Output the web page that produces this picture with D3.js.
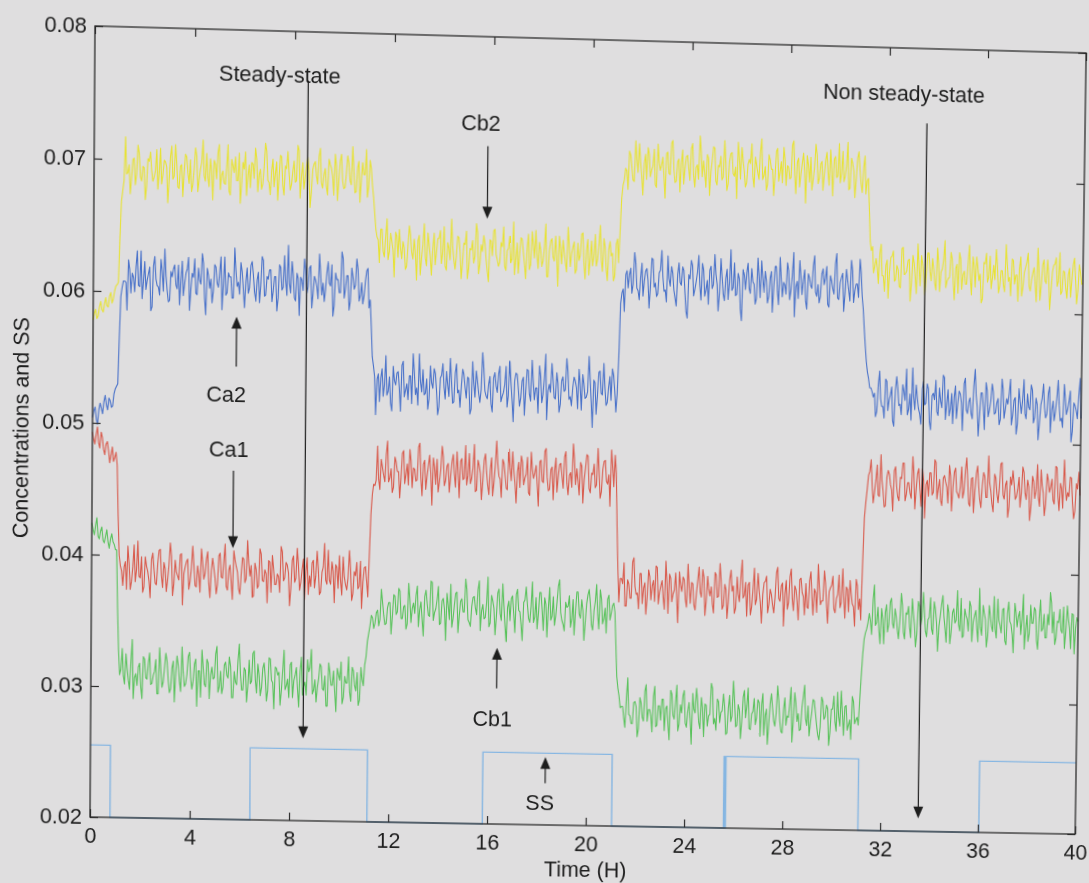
<!DOCTYPE html>
<html>
<head>
<meta charset="utf-8">
<script src="https://cdn.jsdelivr.net/npm/d3@7"></script>
<style>
html, body { margin: 0; padding: 0; background: #dfdedf; overflow: hidden; }
#chart { display: block; transform-origin: 0 0; overflow: visible; }
#chart text { font-family: "Liberation Sans", Arial, Helvetica, sans-serif; fill: #1e1e1e; }
</style>
</head>
<body>
<svg id="chart" width="1160" height="940"></svg>
<script>
// Sampling interval of the logged concentrations (hours); one row below = 1 hour
const sampleStep = 0.05;

// Ca1 concentration
const ca1 = [
0.0493,0.0488,0.0484,0.0491,0.0497,0.0485,0.0481,0.0493,0.0489,0.0480,0.0476,0.0484,0.0486,0.0479,0.0470,0.0476,0.0482,0.0471,0.0474,0.0478,
0.0468,0.0430,0.0400,0.0392,0.0388,0.0377,0.0391,0.0395,0.0374,0.0407,0.0394,0.0374,0.0380,0.0391,0.0408,0.0380,0.0389,0.0411,0.0384,0.0383,
0.0399,0.0372,0.0376,0.0399,0.0392,0.0388,0.0381,0.0368,0.0397,0.0402,0.0390,0.0379,0.0378,0.0394,0.0404,0.0405,0.0385,0.0376,0.0395,0.0390,
0.0373,0.0382,0.0393,0.0410,0.0400,0.0370,0.0379,0.0397,0.0388,0.0385,0.0382,0.0401,0.0402,0.0363,0.0387,0.0392,0.0396,0.0398,0.0375,0.0381,
0.0391,0.0408,0.0394,0.0378,0.0377,0.0393,0.0386,0.0373,0.0406,0.0396,0.0383,0.0387,0.0398,0.0404,0.0380,0.0369,0.0389,0.0399,0.0392,0.0384,
0.0372,0.0379,0.0401,0.0403,0.0385,0.0384,0.0397,0.0410,0.0378,0.0375,0.0390,0.0394,0.0381,0.0368,0.0405,0.0398,0.0393,0.0389,0.0376,0.0372,
0.0387,0.0400,0.0399,0.0381,0.0384,0.0413,0.0396,0.0386,0.0394,0.0370,0.0371,0.0396,0.0391,0.0377,0.0379,0.0407,0.0403,0.0383,0.0382,0.0391,
0.0388,0.0366,0.0398,0.0397,0.0374,0.0402,0.0392,0.0380,0.0380,0.0388,0.0386,0.0374,0.0409,0.0405,0.0383,0.0385,0.0397,0.0395,0.0389,0.0364,
0.0377,0.0399,0.0402,0.0382,0.0385,0.0408,0.0395,0.0376,0.0382,0.0392,0.0400,0.0369,0.0390,0.0401,0.0373,0.0387,0.0379,0.0397,0.0399,0.0378,
0.0387,0.0406,0.0393,0.0373,0.0375,0.0390,0.0394,0.0412,0.0384,0.0381,0.0407,0.0384,0.0381,0.0398,0.0391,0.0367,0.0396,0.0394,0.0378,0.0403,
0.0384,0.0373,0.0402,0.0387,0.0381,0.0377,0.0386,0.0407,0.0393,0.0369,0.0374,0.0391,0.0388,0.0398,0.0378,0.0380,0.0399,0.0363,0.0383,0.0394,
0.0395,0.0384,0.0372,0.0404,0.0435,0.0450,0.0458,0.0457,0.0461,0.0487,0.0462,0.0454,0.0477,0.0471,0.0465,0.0460,0.0481,0.0491,0.0460,0.0463,
0.0470,0.0452,0.0456,0.0479,0.0475,0.0468,0.0468,0.0448,0.0463,0.0482,0.0484,0.0459,0.0466,0.0474,0.0458,0.0485,0.0476,0.0456,0.0471,0.0470,
0.0461,0.0462,0.0487,0.0490,0.0464,0.0450,0.0474,0.0477,0.0455,0.0465,0.0473,0.0481,0.0467,0.0443,0.0479,0.0472,0.0459,0.0478,0.0453,0.0461,
0.0470,0.0488,0.0480,0.0458,0.0462,0.0473,0.0475,0.0453,0.0465,0.0476,0.0482,0.0467,0.0457,0.0484,0.0469,0.0449,0.0477,0.0479,0.0463,0.0464,
0.0489,0.0459,0.0466,0.0483,0.0460,0.0464,0.0472,0.0490,0.0454,0.0455,0.0478,0.0474,0.0468,0.0448,0.0462,0.0478,0.0483,0.0469,0.0459,0.0452,
0.0471,0.0480,0.0451,0.0461,0.0474,0.0493,0.0476,0.0466,0.0464,0.0450,0.0479,0.0476,0.0467,0.0457,0.0456,0.0487,0.0473,0.0463,0.0485,0.0471,
0.0461,0.0446,0.0470,0.0477,0.0458,0.0482,0.0477,0.0460,0.0465,0.0468,0.0481,0.0454,0.0452,0.0485,0.0472,0.0465,0.0469,0.0475,0.0460,0.0444,
0.0478,0.0479,0.0463,0.0462,0.0486,0.0488,0.0466,0.0456,0.0457,0.0472,0.0474,0.0449,0.0471,0.0481,0.0455,0.0467,0.0476,0.0477,0.0467,0.0458,
0.0482,0.0486,0.0462,0.0453,0.0468,0.0470,0.0459,0.0492,0.0480,0.0461,0.0473,0.0464,0.0453,0.0478,0.0475,0.0447,0.0465,0.0474,0.0484,0.0483,
0.0458,0.0455,0.0470,0.0469,0.0477,0.0459,0.0461,0.0489,0.0472,0.0451,0.0456,0.0473,0.0479,0.0480,0.0464,0.0462,0.0469,0.0445,0.0488,0.0476,
0.0460,0.0484,0.0470,0.0430,0.0398,0.0372,0.0390,0.0390,0.0386,0.0402,0.0369,0.0369,0.0389,0.0386,0.0375,0.0375,0.0403,0.0406,0.0384,0.0378,
0.0379,0.0367,0.0394,0.0394,0.0371,0.0383,0.0387,0.0363,0.0376,0.0397,0.0392,0.0374,0.0385,0.0389,0.0373,0.0400,0.0399,0.0371,0.0380,0.0385,
0.0389,0.0376,0.0367,0.0404,0.0387,0.0364,0.0394,0.0391,0.0373,0.0379,0.0382,0.0395,0.0376,0.0357,0.0396,0.0386,0.0381,0.0392,0.0390,0.0375,
0.0369,0.0402,0.0385,0.0372,0.0388,0.0387,0.0371,0.0367,0.0380,0.0390,0.0400,0.0381,0.0377,0.0398,0.0392,0.0363,0.0374,0.0393,0.0383,0.0378,
0.0385,0.0372,0.0365,0.0396,0.0394,0.0377,0.0378,0.0403,0.0390,0.0368,0.0371,0.0387,0.0383,0.0361,0.0374,0.0391,0.0398,0.0382,0.0386,0.0365,
0.0369,0.0393,0.0380,0.0374,0.0392,0.0406,0.0377,0.0379,0.0389,0.0363,0.0387,0.0389,0.0364,0.0370,0.0384,0.0400,0.0372,0.0376,0.0396,0.0384,
0.0374,0.0358,0.0380,0.0389,0.0390,0.0394,0.0366,0.0372,0.0384,0.0380,0.0372,0.0366,0.0378,0.0397,0.0401,0.0377,0.0375,0.0387,0.0389,0.0356,
0.0381,0.0391,0.0369,0.0374,0.0394,0.0400,0.0377,0.0368,0.0387,0.0384,0.0374,0.0361,0.0392,0.0393,0.0382,0.0379,0.0365,0.0389,0.0371,0.0370,
0.0391,0.0398,0.0379,0.0365,0.0385,0.0382,0.0367,0.0404,0.0386,0.0373,0.0376,0.0376,0.0399,0.0390,0.0373,0.0359,0.0383,0.0386,0.0388,0.0395,
0.0370,0.0367,0.0378,0.0381,0.0396,0.0371,0.0375,0.0401,0.0380,0.0363,0.0387,0.0385,0.0368,0.0392,0.0382,0.0374,0.0372,0.0357,0.0393,0.0388,
0.0370,0.0378,0.0362,0.0405,0.0440,0.0452,0.0462,0.0473,0.0476,0.0485,0.0466,0.0452,0.0460,0.0469,0.0481,0.0458,0.0457,0.0489,0.0469,0.0461,
0.0449,0.0450,0.0472,0.0477,0.0474,0.0466,0.0462,0.0446,0.0477,0.0480,0.0465,0.0457,0.0454,0.0472,0.0471,0.0483,0.0483,0.0454,0.0459,0.0468,
0.0468,0.0460,0.0456,0.0488,0.0475,0.0448,0.0463,0.0475,0.0479,0.0463,0.0450,0.0479,0.0470,0.0441,0.0467,0.0470,0.0458,0.0476,0.0476,0.0459,
0.0461,0.0486,0.0484,0.0456,0.0464,0.0471,0.0455,0.0451,0.0472,0.0474,0.0469,0.0465,0.0453,0.0482,0.0474,0.0447,0.0465,0.0477,0.0480,0.0462,
0.0460,0.0457,0.0466,0.0481,0.0457,0.0462,0.0478,0.0488,0.0471,0.0453,0.0451,0.0472,0.0473,0.0446,0.0463,0.0476,0.0482,0.0467,0.0456,0.0450,
0.0467,0.0477,0.0474,0.0458,0.0458,0.0490,0.0469,0.0463,0.0453,0.0447,0.0476,0.0473,0.0461,0.0454,0.0466,0.0484,0.0485,0.0460,0.0457,0.0468,
0.0471,0.0443,0.0451,0.0474,0.0468,0.0479,0.0469,0.0457,0.0459,0.0465,0.0474,0.0451,0.0462,0.0482,0.0478,0.0462,0.0457,0.0472,0.0467,0.0441,
0.0452,0.0475,0.0471,0.0458,0.0464,0.0484,0.0459,0.0452,0.0480,0.0468,0.0462,0.0445,0.0454,0.0477,0.0472,0.0463,0.0467,0.0473,0.0457,0.0454,
0.0483,0.0482,0.0460,0.0449,0.0470,0.0466,0.0451,0.0488,0.0469,0.0457,0.0463,0.0460,0.0475,0.0474,0.0455,0.0443,0.0449,0.0470,0.0466,0.0479,
0.0461];

// Ca2 concentration
const ca2 = [
0.0504,0.0509,0.0512,0.0503,0.0499,0.0510,0.0515,0.0511,0.0507,0.0516,0.0521,0.0514,0.0510,0.0519,0.0517,0.0512,0.0513,0.0522,0.0526,0.0528,
0.0530,0.0565,0.0596,0.0603,0.0608,0.0608,0.0607,0.0586,0.0624,0.0617,0.0599,0.0614,0.0611,0.0600,0.0619,0.0631,0.0605,0.0604,0.0631,0.0595,
0.0608,0.0623,0.0602,0.0609,0.0614,0.0619,0.0586,0.0589,0.0620,0.0627,0.0610,0.0605,0.0604,0.0598,0.0625,0.0616,0.0601,0.0633,0.0613,0.0602,
0.0593,0.0594,0.0616,0.0612,0.0618,0.0621,0.0606,0.0603,0.0621,0.0591,0.0609,0.0624,0.0598,0.0607,0.0615,0.0618,0.0627,0.0587,0.0603,0.0615,
0.0612,0.0626,0.0600,0.0599,0.0619,0.0610,0.0607,0.0630,0.0623,0.0596,0.0584,0.0619,0.0614,0.0604,0.0611,0.0593,0.0602,0.0622,0.0620,0.0608,
0.0605,0.0616,0.0628,0.0588,0.0608,0.0628,0.0599,0.0601,0.0616,0.0613,0.0613,0.0597,0.0597,0.0635,0.0618,0.0606,0.0609,0.0600,0.0624,0.0617,
0.0604,0.0590,0.0610,0.0620,0.0601,0.0605,0.0622,0.0625,0.0615,0.0602,0.0595,0.0611,0.0617,0.0594,0.0607,0.0629,0.0626,0.0599,0.0600,0.0614,
0.0612,0.0619,0.0619,0.0595,0.0603,0.0614,0.0614,0.0588,0.0598,0.0623,0.0621,0.0604,0.0606,0.0630,0.0611,0.0600,0.0638,0.0609,0.0602,0.0626,
0.0616,0.0598,0.0596,0.0617,0.0613,0.0585,0.0614,0.0612,0.0604,0.0628,0.0619,0.0602,0.0607,0.0621,0.0623,0.0591,0.0602,0.0615,0.0612,0.0607,
0.0598,0.0632,0.0617,0.0601,0.0610,0.0596,0.0605,0.0618,0.0626,0.0610,0.0608,0.0624,0.0585,0.0593,0.0618,0.0613,0.0613,0.0603,0.0603,0.0634,
0.0629,0.0599,0.0606,0.0616,0.0616,0.0590,0.0597,0.0622,0.0615,0.0606,0.0609,0.0629,0.0621,0.0597,0.0601,0.0611,0.0595,0.0601,0.0612,0.0620,
0.0622,0.0592,0.0598,0.0578,0.0555,0.0548,0.0540,0.0511,0.0538,0.0542,0.0521,0.0539,0.0546,0.0525,0.0534,0.0556,0.0526,0.0529,0.0540,0.0520,
0.0514,0.0548,0.0537,0.0534,0.0543,0.0544,0.0531,0.0514,0.0549,0.0552,0.0525,0.0530,0.0535,0.0523,0.0541,0.0541,0.0520,0.0558,0.0544,0.0527,
0.0532,0.0519,0.0558,0.0537,0.0529,0.0546,0.0527,0.0528,0.0539,0.0516,0.0524,0.0549,0.0536,0.0532,0.0547,0.0543,0.0530,0.0512,0.0518,0.0540,
0.0542,0.0551,0.0533,0.0524,0.0545,0.0535,0.0526,0.0555,0.0538,0.0521,0.0522,0.0544,0.0551,0.0529,0.0531,0.0518,0.0534,0.0547,0.0543,0.0533,
0.0525,0.0541,0.0540,0.0513,0.0517,0.0553,0.0537,0.0526,0.0546,0.0538,0.0529,0.0522,0.0532,0.0560,0.0548,0.0531,0.0527,0.0525,0.0536,0.0542,
0.0521,0.0515,0.0541,0.0545,0.0535,0.0530,0.0544,0.0550,0.0523,0.0527,0.0530,0.0536,0.0550,0.0519,0.0528,0.0554,0.0538,0.0524,0.0508,0.0539,
0.0545,0.0544,0.0533,0.0520,0.0526,0.0539,0.0542,0.0513,0.0531,0.0548,0.0547,0.0529,0.0524,0.0555,0.0539,0.0525,0.0534,0.0534,0.0515,0.0551,
0.0543,0.0523,0.0529,0.0542,0.0560,0.0510,0.0532,0.0537,0.0531,0.0553,0.0541,0.0527,0.0526,0.0546,0.0538,0.0516,0.0522,0.0540,0.0543,0.0532,
0.0533,0.0557,0.0547,0.0526,0.0528,0.0521,0.0535,0.0543,0.0540,0.0535,0.0519,0.0549,0.0537,0.0518,0.0545,0.0538,0.0527,0.0528,0.0532,0.0559,
0.0542,0.0524,0.0505,0.0541,0.0539,0.0515,0.0529,0.0547,0.0548,0.0531,0.0530,0.0554,0.0536,0.0522,0.0524,0.0536,0.0544,0.0526,0.0550,0.0545,
0.0533,0.0517,0.0531,0.0560,0.0600,0.0608,0.0611,0.0594,0.0622,0.0625,0.0612,0.0622,0.0627,0.0608,0.0615,0.0639,0.0631,0.0612,0.0610,0.0603,
0.0620,0.0631,0.0606,0.0617,0.0625,0.0627,0.0618,0.0597,0.0613,0.0635,0.0634,0.0613,0.0616,0.0606,0.0608,0.0624,0.0626,0.0641,0.0621,0.0610,
0.0611,0.0602,0.0637,0.0620,0.0614,0.0629,0.0624,0.0611,0.0605,0.0599,0.0623,0.0632,0.0617,0.0615,0.0629,0.0626,0.0609,0.0595,0.0590,0.0623,
0.0620,0.0634,0.0630,0.0607,0.0612,0.0618,0.0625,0.0638,0.0615,0.0604,0.0632,0.0627,0.0607,0.0612,0.0619,0.0601,0.0627,0.0630,0.0613,0.0616,
0.0639,0.0624,0.0616,0.0596,0.0610,0.0636,0.0622,0.0609,0.0604,0.0621,0.0628,0.0605,0.0618,0.0643,0.0612,0.0614,0.0633,0.0608,0.0609,0.0625,
0.0621,0.0598,0.0589,0.0628,0.0624,0.0613,0.0626,0.0633,0.0614,0.0610,0.0629,0.0619,0.0617,0.0602,0.0606,0.0637,0.0623,0.0607,0.0635,0.0622,
0.0611,0.0627,0.0620,0.0603,0.0608,0.0622,0.0627,0.0596,0.0615,0.0631,0.0631,0.0612,0.0602,0.0638,0.0622,0.0608,0.0619,0.0617,0.0610,0.0634,
0.0628,0.0606,0.0613,0.0625,0.0642,0.0593,0.0616,0.0620,0.0607,0.0636,0.0624,0.0610,0.0621,0.0629,0.0605,0.0599,0.0626,0.0623,0.0617,0.0615,
0.0632,0.0640,0.0612,0.0609,0.0618,0.0604,0.0609,0.0626,0.0630,0.0618,0.0623,0.0632,0.0603,0.0601,0.0625,0.0621,0.0615,0.0611,0.0634,0.0642,
0.0608,0.0607,0.0620,0.0624,0.0627,0.0598,0.0611,0.0630,0.0622,0.0614,0.0606,0.0637,0.0629,0.0605,0.0614,0.0619,0.0619,0.0609,0.0638,0.0628,
0.0610,0.0600,0.0585,0.0572,0.0560,0.0552,0.0547,0.0540,0.0540,0.0537,0.0533,0.0536,0.0518,0.0522,0.0542,0.0553,0.0532,0.0526,0.0526,0.0517,
0.0547,0.0545,0.0523,0.0531,0.0535,0.0541,0.0515,0.0511,0.0538,0.0549,0.0540,0.0527,0.0528,0.0520,0.0543,0.0538,0.0531,0.0555,0.0520,0.0524,
0.0536,0.0516,0.0556,0.0534,0.0524,0.0543,0.0533,0.0525,0.0521,0.0513,0.0540,0.0546,0.0528,0.0529,0.0544,0.0540,0.0515,0.0509,0.0535,0.0537,
0.0532,0.0547,0.0523,0.0520,0.0541,0.0531,0.0526,0.0551,0.0549,0.0517,0.0529,0.0540,0.0520,0.0525,0.0537,0.0514,0.0534,0.0543,0.0518,0.0529,
0.0539,0.0537,0.0530,0.0509,0.0545,0.0549,0.0525,0.0522,0.0531,0.0534,0.0522,0.0518,0.0543,0.0556,0.0536,0.0527,0.0505,0.0521,0.0538,0.0538,
0.0527,0.0510,0.0546,0.0540,0.0520,0.0525,0.0532,0.0545,0.0539,0.0522,0.0523,0.0531,0.0534,0.0514,0.0518,0.0549,0.0541,0.0519,0.0526,0.0534,
0.0530,0.0538,0.0549,0.0514,0.0521,0.0533,0.0535,0.0507,0.0515,0.0542,0.0532,0.0523,0.0533,0.0549,0.0523,0.0519,0.0538,0.0528,0.0526,0.0545,
0.0541,0.0516,0.0520,0.0535,0.0530,0.0503,0.0516,0.0530,0.0535,0.0546,0.0528,0.0520,0.0523,0.0539,0.0544,0.0509,0.0526,0.0533,0.0518,0.0525,
0.0535,0.0549,0.0530,0.0518,0.0520,0.0513,0.0546,0.0535,0.0523,0.0527,0.0533,0.0541,0.0502,0.0510,0.0532,0.0530,0.0526,0.0520,0.0538,0.0551,
0.0520];

// Cb1 concentration
const cb1 = [
0.0424,0.0419,0.0415,0.0422,0.0428,0.0414,0.0412,0.0418,0.0421,0.0411,0.0409,0.0414,0.0419,0.0410,0.0405,0.0412,0.0416,0.0410,0.0408,0.0404,
0.0404,0.0360,0.0328,0.0309,0.0313,0.0329,0.0308,0.0302,0.0325,0.0314,0.0305,0.0298,0.0319,0.0336,0.0291,0.0307,0.0310,0.0301,0.0315,0.0318,
0.0300,0.0291,0.0323,0.0321,0.0307,0.0306,0.0318,0.0326,0.0302,0.0303,0.0309,0.0312,0.0321,0.0295,0.0295,0.0330,0.0314,0.0300,0.0304,0.0315,
0.0326,0.0320,0.0306,0.0296,0.0299,0.0315,0.0320,0.0289,0.0311,0.0324,0.0317,0.0305,0.0297,0.0331,0.0312,0.0301,0.0303,0.0310,0.0324,0.0327,
0.0308,0.0299,0.0305,0.0318,0.0322,0.0286,0.0313,0.0313,0.0293,0.0329,0.0316,0.0303,0.0301,0.0322,0.0319,0.0292,0.0310,0.0316,0.0307,0.0308,
0.0326,0.0332,0.0297,0.0301,0.0313,0.0296,0.0301,0.0318,0.0320,0.0310,0.0308,0.0324,0.0317,0.0293,0.0293,0.0313,0.0305,0.0303,0.0322,0.0334,
0.0311,0.0299,0.0299,0.0316,0.0314,0.0290,0.0302,0.0322,0.0304,0.0306,0.0327,0.0329,0.0307,0.0297,0.0319,0.0311,0.0295,0.0301,0.0316,0.0320,
0.0309,0.0291,0.0299,0.0324,0.0323,0.0307,0.0305,0.0285,0.0317,0.0316,0.0311,0.0313,0.0288,0.0299,0.0314,0.0330,0.0300,0.0303,0.0308,0.0294,
0.0319,0.0321,0.0294,0.0307,0.0311,0.0317,0.0301,0.0287,0.0314,0.0325,0.0296,0.0303,0.0306,0.0296,0.0323,0.0314,0.0317,0.0331,0.0297,0.0300,
0.0308,0.0291,0.0302,0.0309,0.0320,0.0318,0.0301,0.0300,0.0311,0.0288,0.0288,0.0321,0.0314,0.0304,0.0304,0.0315,0.0299,0.0284,0.0317,0.0312,
0.0308,0.0322,0.0290,0.0295,0.0311,0.0306,0.0306,0.0326,0.0299,0.0292,0.0318,0.0315,0.0304,0.0300,0.0314,0.0289,0.0293,0.0318,0.0309,0.0304,
0.0320,0.0326,0.0338,0.0344,0.0350,0.0358,0.0356,0.0348,0.0352,0.0360,0.0362,0.0350,0.0355,0.0378,0.0368,0.0358,0.0351,0.0352,0.0364,0.0368,
0.0368,0.0344,0.0358,0.0374,0.0373,0.0359,0.0361,0.0379,0.0377,0.0356,0.0356,0.0365,0.0366,0.0348,0.0352,0.0383,0.0371,0.0353,0.0364,0.0368,
0.0360,0.0374,0.0381,0.0350,0.0363,0.0369,0.0355,0.0343,0.0373,0.0378,0.0368,0.0359,0.0358,0.0385,0.0384,0.0355,0.0361,0.0364,0.0371,0.0381,
0.0352,0.0353,0.0370,0.0372,0.0364,0.0340,0.0376,0.0367,0.0356,0.0383,0.0350,0.0357,0.0367,0.0376,0.0377,0.0346,0.0359,0.0370,0.0372,0.0362,
0.0362,0.0387,0.0379,0.0356,0.0354,0.0351,0.0366,0.0373,0.0374,0.0365,0.0360,0.0379,0.0386,0.0348,0.0363,0.0368,0.0357,0.0358,0.0369,0.0389,
0.0351,0.0354,0.0375,0.0371,0.0365,0.0345,0.0359,0.0377,0.0380,0.0361,0.0356,0.0384,0.0368,0.0352,0.0340,0.0366,0.0371,0.0356,0.0373,0.0375,
0.0361,0.0347,0.0376,0.0380,0.0364,0.0363,0.0353,0.0341,0.0370,0.0372,0.0382,0.0369,0.0358,0.0355,0.0367,0.0386,0.0355,0.0359,0.0374,0.0350,
0.0362,0.0378,0.0378,0.0364,0.0349,0.0374,0.0369,0.0344,0.0366,0.0382,0.0357,0.0360,0.0375,0.0353,0.0360,0.0371,0.0383,0.0388,0.0363,0.0357,
0.0354,0.0349,0.0371,0.0367,0.0368,0.0376,0.0352,0.0358,0.0373,0.0346,0.0364,0.0379,0.0379,0.0362,0.0359,0.0373,0.0365,0.0342,0.0356,0.0370,
0.0377,0.0381,0.0370,0.0354,0.0350,0.0365,0.0372,0.0385,0.0362,0.0351,0.0381,0.0374,0.0355,0.0359,0.0367,0.0348,0.0374,0.0377,0.0358,0.0363,
0.0369,0.0371,0.0364,0.0340,0.0315,0.0306,0.0300,0.0291,0.0292,0.0292,0.0283,0.0276,0.0298,0.0314,0.0286,0.0285,0.0279,0.0279,0.0295,0.0296,
0.0292,0.0269,0.0275,0.0299,0.0295,0.0284,0.0281,0.0304,0.0309,0.0281,0.0290,0.0290,0.0285,0.0273,0.0300,0.0308,0.0277,0.0278,0.0293,0.0293,
0.0282,0.0298,0.0298,0.0274,0.0291,0.0293,0.0279,0.0267,0.0305,0.0302,0.0286,0.0283,0.0296,0.0309,0.0274,0.0279,0.0294,0.0288,0.0301,0.0305,
0.0280,0.0277,0.0289,0.0296,0.0283,0.0264,0.0303,0.0291,0.0288,0.0307,0.0297,0.0281,0.0276,0.0300,0.0292,0.0270,0.0295,0.0294,0.0278,0.0286,
0.0287,0.0311,0.0307,0.0280,0.0284,0.0275,0.0299,0.0297,0.0281,0.0289,0.0290,0.0303,0.0293,0.0272,0.0273,0.0292,0.0302,0.0282,0.0286,0.0313,
0.0298,0.0278,0.0279,0.0295,0.0291,0.0269,0.0282,0.0301,0.0306,0.0285,0.0294,0.0308,0.0277,0.0276,0.0288,0.0290,0.0300,0.0280,0.0285,0.0299,
0.0297,0.0271,0.0295,0.0304,0.0272,0.0287,0.0292,0.0265,0.0280,0.0296,0.0304,0.0293,0.0283,0.0279,0.0289,0.0310,0.0299,0.0283,0.0275,0.0274,
0.0292,0.0301,0.0280,0.0287,0.0286,0.0297,0.0309,0.0267,0.0283,0.0305,0.0297,0.0283,0.0289,0.0276,0.0277,0.0294,0.0302,0.0311,0.0285,0.0280,
0.0295,0.0272,0.0282,0.0290,0.0300,0.0299,0.0290,0.0281,0.0273,0.0269,0.0279,0.0302,0.0299,0.0285,0.0287,0.0296,0.0293,0.0265,0.0275,0.0293,
0.0293,0.0303,0.0283,0.0276,0.0306,0.0287,0.0280,0.0307,0.0290,0.0273,0.0295,0.0296,0.0277,0.0281,0.0285,0.0270,0.0303,0.0299,0.0282,0.0285,
0.0287,0.0281,0.0300,0.0318,0.0335,0.0347,0.0352,0.0355,0.0360,0.0367,0.0361,0.0351,0.0378,0.0389,0.0358,0.0360,0.0372,0.0354,0.0344,0.0371,
0.0363,0.0344,0.0368,0.0374,0.0353,0.0359,0.0376,0.0379,0.0360,0.0356,0.0371,0.0365,0.0355,0.0348,0.0362,0.0383,0.0374,0.0353,0.0348,0.0368,
0.0367,0.0373,0.0357,0.0349,0.0379,0.0368,0.0359,0.0342,0.0352,0.0377,0.0373,0.0358,0.0364,0.0384,0.0370,0.0354,0.0350,0.0363,0.0365,0.0380,
0.0356,0.0352,0.0377,0.0371,0.0361,0.0339,0.0358,0.0366,0.0375,0.0382,0.0366,0.0356,0.0346,0.0375,0.0369,0.0345,0.0354,0.0369,0.0372,0.0361,
0.0363,0.0386,0.0360,0.0355,0.0380,0.0350,0.0351,0.0372,0.0367,0.0364,0.0355,0.0378,0.0374,0.0347,0.0362,0.0367,0.0371,0.0357,0.0347,0.0388,
0.0358,0.0352,0.0375,0.0369,0.0364,0.0343,0.0352,0.0375,0.0367,0.0359,0.0355,0.0382,0.0357,0.0350,0.0380,0.0364,0.0360,0.0354,0.0372,0.0373,
0.0348,0.0345,0.0369,0.0378,0.0363,0.0361,0.0353,0.0339,0.0377,0.0370,0.0359,0.0367,0.0371,0.0353,0.0365,0.0384,0.0342,0.0357,0.0368,0.0348,
0.0354,0.0376,0.0362,0.0362,0.0374,0.0372,0.0349,0.0342,0.0366,0.0380,0.0356,0.0358,0.0369,0.0351,0.0351,0.0369,0.0361,0.0386,0.0378,0.0355,
0.0371,0.0346,0.0351,0.0364,0.0363,0.0373,0.0357,0.0355,0.0375,0.0343,0.0356,0.0376,0.0366,0.0359,0.0343,0.0370,0.0369,0.0339,0.0359,0.0367,
0.0364];

// Cb2 concentration
const cb2 = [
0.0578,0.0583,0.0586,0.0579,0.0581,0.0588,0.0592,0.0586,0.0584,0.0590,0.0595,0.0589,0.0588,0.0596,0.0599,0.0591,0.0594,0.0600,0.0604,0.0605,
0.0607,0.0640,0.0668,0.0676,0.0684,0.0717,0.0689,0.0690,0.0696,0.0674,0.0686,0.0700,0.0701,0.0681,0.0689,0.0711,0.0705,0.0687,0.0684,0.0695,
0.0694,0.0670,0.0680,0.0701,0.0699,0.0706,0.0692,0.0684,0.0687,0.0692,0.0708,0.0678,0.0690,0.0709,0.0682,0.0689,0.0700,0.0699,0.0695,0.0668,
0.0685,0.0703,0.0711,0.0686,0.0688,0.0712,0.0698,0.0680,0.0679,0.0696,0.0697,0.0673,0.0691,0.0705,0.0703,0.0691,0.0683,0.0701,0.0677,0.0682,
0.0694,0.0710,0.0704,0.0677,0.0686,0.0694,0.0699,0.0716,0.0689,0.0685,0.0706,0.0688,0.0681,0.0702,0.0693,0.0671,0.0701,0.0698,0.0687,0.0707,
0.0713,0.0679,0.0690,0.0693,0.0684,0.0683,0.0696,0.0713,0.0678,0.0675,0.0702,0.0697,0.0692,0.0704,0.0686,0.0686,0.0707,0.0669,0.0683,0.0700,
0.0695,0.0708,0.0675,0.0690,0.0698,0.0681,0.0700,0.0699,0.0688,0.0711,0.0703,0.0678,0.0691,0.0695,0.0680,0.0684,0.0697,0.0715,0.0709,0.0687,
0.0685,0.0676,0.0694,0.0703,0.0682,0.0692,0.0701,0.0672,0.0689,0.0706,0.0705,0.0683,0.0676,0.0698,0.0696,0.0709,0.0693,0.0680,0.0684,0.0694,
0.0702,0.0686,0.0687,0.0714,0.0710,0.0674,0.0690,0.0701,0.0681,0.0689,0.0698,0.0705,0.0695,0.0667,0.0679,0.0696,0.0700,0.0702,0.0691,0.0685,
0.0706,0.0712,0.0686,0.0682,0.0692,0.0697,0.0683,0.0677,0.0704,0.0700,0.0697,0.0691,0.0677,0.0708,0.0699,0.0673,0.0689,0.0703,0.0708,0.0688,
0.0682,0.0683,0.0694,0.0707,0.0701,0.0688,0.0685,0.0714,0.0696,0.0679,0.0680,0.0698,0.0703,0.0672,0.0688,0.0702,0.0693,0.0693,0.0712,0.0676,
0.0684,0.0704,0.0698,0.0685,0.0676,0.0664,0.0652,0.0646,0.0644,0.0627,0.0652,0.0652,0.0635,0.0631,0.0646,0.0660,0.0629,0.0635,0.0649,0.0643,
0.0636,0.0616,0.0650,0.0647,0.0631,0.0652,0.0638,0.0630,0.0643,0.0638,0.0622,0.0624,0.0640,0.0655,0.0648,0.0635,0.0630,0.0645,0.0635,0.0614,
0.0644,0.0648,0.0618,0.0631,0.0641,0.0657,0.0631,0.0625,0.0650,0.0641,0.0632,0.0618,0.0638,0.0650,0.0626,0.0636,0.0646,0.0646,0.0652,0.0627,
0.0635,0.0655,0.0625,0.0622,0.0643,0.0639,0.0630,0.0661,0.0640,0.0630,0.0623,0.0633,0.0648,0.0647,0.0636,0.0616,0.0628,0.0643,0.0642,0.0652,
0.0616,0.0624,0.0639,0.0638,0.0645,0.0628,0.0633,0.0658,0.0651,0.0620,0.0627,0.0642,0.0637,0.0649,0.0643,0.0631,0.0622,0.0614,0.0646,0.0645,
0.0634,0.0653,0.0654,0.0635,0.0631,0.0626,0.0629,0.0644,0.0641,0.0656,0.0626,0.0623,0.0638,0.0640,0.0649,0.0629,0.0632,0.0660,0.0620,0.0632,
0.0644,0.0621,0.0635,0.0648,0.0647,0.0637,0.0628,0.0617,0.0640,0.0651,0.0624,0.0628,0.0653,0.0643,0.0633,0.0654,0.0636,0.0625,0.0645,0.0639,
0.0627,0.0631,0.0642,0.0659,0.0619,0.0619,0.0639,0.0646,0.0648,0.0634,0.0631,0.0650,0.0634,0.0612,0.0650,0.0641,0.0629,0.0647,0.0638,0.0630,
0.0623,0.0657,0.0643,0.0627,0.0637,0.0642,0.0646,0.0622,0.0625,0.0645,0.0632,0.0636,0.0652,0.0653,0.0630,0.0618,0.0640,0.0648,0.0621,0.0633,
0.0647,0.0628,0.0635,0.0652,0.0628,0.0633,0.0644,0.0659,0.0633,0.0624,0.0649,0.0643,0.0626,0.0617,0.0641,0.0647,0.0636,0.0638,0.0617,0.0621,
0.0645,0.0649,0.0631,0.0655,0.0680,0.0690,0.0694,0.0703,0.0701,0.0687,0.0716,0.0713,0.0704,0.0694,0.0693,0.0724,0.0710,0.0700,0.0722,0.0708,
0.0698,0.0683,0.0707,0.0714,0.0695,0.0719,0.0714,0.0697,0.0702,0.0705,0.0718,0.0691,0.0689,0.0722,0.0709,0.0702,0.0706,0.0712,0.0697,0.0681,
0.0715,0.0716,0.0700,0.0699,0.0723,0.0725,0.0703,0.0693,0.0694,0.0709,0.0711,0.0686,0.0708,0.0718,0.0692,0.0704,0.0713,0.0714,0.0704,0.0695,
0.0719,0.0723,0.0699,0.0690,0.0705,0.0707,0.0696,0.0729,0.0717,0.0698,0.0710,0.0701,0.0690,0.0715,0.0712,0.0684,0.0702,0.0711,0.0721,0.0720,
0.0695,0.0692,0.0707,0.0706,0.0714,0.0696,0.0698,0.0726,0.0709,0.0688,0.0693,0.0710,0.0716,0.0717,0.0701,0.0699,0.0706,0.0682,0.0725,0.0713,
0.0697,0.0721,0.0711,0.0703,0.0691,0.0694,0.0708,0.0712,0.0709,0.0724,0.0699,0.0691,0.0714,0.0708,0.0702,0.0697,0.0718,0.0728,0.0697,0.0700,
0.0707,0.0689,0.0693,0.0716,0.0712,0.0705,0.0705,0.0685,0.0700,0.0719,0.0721,0.0696,0.0703,0.0711,0.0695,0.0722,0.0713,0.0693,0.0708,0.0707,
0.0698,0.0699,0.0724,0.0727,0.0701,0.0687,0.0711,0.0714,0.0692,0.0702,0.0710,0.0718,0.0704,0.0680,0.0716,0.0709,0.0696,0.0715,0.0690,0.0698,
0.0707,0.0725,0.0717,0.0695,0.0699,0.0710,0.0712,0.0690,0.0702,0.0713,0.0719,0.0704,0.0694,0.0721,0.0706,0.0686,0.0714,0.0716,0.0700,0.0701,
0.0726,0.0696,0.0703,0.0720,0.0697,0.0701,0.0709,0.0727,0.0691,0.0692,0.0715,0.0711,0.0705,0.0685,0.0699,0.0715,0.0720,0.0706,0.0696,0.0689,
0.0708,0.0717,0.0688,0.0698,0.0700,0.0676,0.0652,0.0645,0.0648,0.0628,0.0633,0.0639,0.0632,0.0620,0.0643,0.0650,0.0626,0.0626,0.0614,0.0634,
0.0638,0.0609,0.0629,0.0640,0.0641,0.0645,0.0622,0.0623,0.0634,0.0631,0.0618,0.0617,0.0647,0.0648,0.0627,0.0628,0.0630,0.0638,0.0639,0.0607,
0.0621,0.0642,0.0636,0.0625,0.0613,0.0651,0.0633,0.0619,0.0642,0.0635,0.0625,0.0612,0.0628,0.0644,0.0644,0.0630,0.0623,0.0640,0.0632,0.0621,
0.0616,0.0648,0.0636,0.0615,0.0630,0.0632,0.0639,0.0654,0.0618,0.0623,0.0625,0.0626,0.0645,0.0640,0.0623,0.0609,0.0633,0.0636,0.0614,0.0645,
0.0640,0.0617,0.0628,0.0631,0.0621,0.0621,0.0637,0.0651,0.0626,0.0613,0.0642,0.0635,0.0619,0.0642,0.0634,0.0624,0.0629,0.0607,0.0610,0.0638,
0.0637,0.0645,0.0623,0.0627,0.0643,0.0618,0.0626,0.0636,0.0625,0.0648,0.0635,0.0615,0.0620,0.0632,0.0632,0.0621,0.0616,0.0652,0.0637,0.0624,
0.0627,0.0613,0.0641,0.0640,0.0622,0.0629,0.0629,0.0609,0.0634,0.0643,0.0613,0.0620,0.0631,0.0635,0.0639,0.0646,0.0621,0.0617,0.0626,0.0631,
0.0635,0.0622,0.0609,0.0650,0.0632,0.0610,0.0622,0.0637,0.0641,0.0625,0.0623,0.0641,0.0629,0.0603,0.0617,0.0632,0.0637,0.0638,0.0643,0.0621,
0.0625,0.0647,0.0615,0.0617,0.0633,0.0632,0.0620,0.0612,0.0630,0.0635,0.0613,0.0626,0.0638,0.0643,0.0626,0.0608,0.0618,0.0638,0.0632,0.0623,
0.0624];

// Steady-state indicator (SS): switching times (h) and levels
const ssTime  = [0, 0.80, 6.42, 11.14, 15.81, 21.05, 25.60, 25.64, 25.68, 31.09, 36.04, 40];
const ssValue = [0.0255, 0.02, 0.0255, 0.02, 0.0255, 0.02, 0.0255, 0.02, 0.0255, 0.02, 0.0255, 0.0255];

// Axis ticks
const xTicks = [0, 4, 8, 12, 16, 20, 24, 28, 32, 36, 40];
const yTicks = [0.02, 0.03, 0.04, 0.05, 0.06, 0.07, 0.08];

// Text annotations (time, value) and their vertical arrows
const noteText  = ["Steady-state", "Non steady-state", "Cb2", "Ca2", "Ca1", "Cb1", "SS"];
const noteTime  = [7.40, 32.60, 15.49, 5.34, 5.46, 16.17, 18.13];
const noteValue = [0.0767, 0.0766, 0.0735, 0.0524, 0.0482, 0.0281, 0.0217];
const arrowTime = [8.54, 33.55, 15.78, 5.74, 5.66, 16.34, 18.34];
const arrowFrom = [0.0763, 0.0743, 0.0717, 0.0545, 0.0466, 0.0304, 0.0232];
const arrowTo   = [0.0263, 0.0210, 0.0662, 0.0583, 0.0407, 0.0335, 0.0252];

// ---------------------------------------------------------------------------
const L = 95, T = 26, W = 990, H = 792;
const svg = d3.select("#chart");
const fontSize = 21.5;

const x = d3.scaleLinear().domain([0, 40]).range([L, L + W]);
const y = d3.scaleLinear().domain([0.02, 0.08]).range([T + H, T]);

const plot = svg.append("g");

// SS step trace
const ssPts = ssTime.map((t, i) => [t, ssValue[i]]);
plot.append("path")
  .datum(ssPts)
  .attr("fill", "none")
  .attr("stroke", "#86b6e2")
  .attr("stroke-width", 1.4)
  .attr("d", d3.line().x(d => x(d[0])).y(d => y(d[1])).curve(d3.curveStepAfter));

// concentration traces
const series = [
  { values: ca1, color: "#d85a4c" },
  { values: ca2, color: "#4a72c9" },
  { values: cb1, color: "#5ac25c" },
  { values: cb2, color: "#e7e236" }
];
const line = d3.line().x((d, i) => x(i * sampleStep)).y(d => y(d));
series.forEach(s => {
  plot.append("path")
    .datum(s.values)
    .attr("fill", "none")
    .attr("stroke", s.color)
    .attr("stroke-width", 1.1)
    .attr("stroke-linejoin", "round")
    .attr("d", line);
});

// axes (ticks pointing inward, box around the plot)
const axisColor = "#2b2b2b";
function styleAxis(g) {
  g.select(".domain").remove();
  g.selectAll(".tick line").attr("stroke", axisColor).attr("stroke-width", 1.2);
  g.selectAll(".tick text").attr("font-size", fontSize).attr("fill", "#1e1e1e");
}
svg.append("g").attr("transform", `translate(0,${T + H})`)
  .call(d3.axisBottom(x).tickValues(xTicks).tickSizeInner(-8).tickSizeOuter(0).tickPadding(11).tickFormat(d3.format("d")))
  .call(styleAxis);
svg.append("g").attr("transform", `translate(0,${T})`)
  .call(d3.axisTop(x).tickValues(xTicks).tickSizeInner(-8).tickSizeOuter(0).tickFormat(""))
  .call(styleAxis);
svg.append("g").attr("transform", `translate(${L},0)`)
  .call(d3.axisLeft(y).tickValues(yTicks).tickSizeInner(-8).tickSizeOuter(0).tickPadding(8).tickFormat(d3.format(".2f")))
  .call(styleAxis);
svg.append("g").attr("transform", `translate(${L + W},0)`)
  .call(d3.axisRight(y).tickValues(yTicks).tickSizeInner(-8).tickSizeOuter(0).tickFormat(""))
  .call(styleAxis);
svg.selectAll(".tick text").attr("font-family", null);

svg.append("rect")
  .attr("x", L).attr("y", T).attr("width", W).attr("height", H)
  .attr("fill", "none").attr("stroke", axisColor).attr("stroke-width", 1.3);

// axis titles
svg.append("text")
  .attr("x", x(20)).attr("y", T + H + 52)
  .attr("text-anchor", "middle")
  .attr("font-size", fontSize)
  .text("Time (H)");
svg.append("text")
  .attr("transform", `translate(${L - 71},${y(0.0495)}) rotate(-90)`)
  .attr("text-anchor", "middle")
  .attr("dy", "0.35em")
  .attr("font-size", fontSize)
  .text("Concentrations and SS");

// annotations
const notes = svg.append("g");
noteText.forEach((txt, i) => {
  notes.append("text")
    .attr("x", x(noteTime[i])).attr("y", y(noteValue[i]))
    .attr("text-anchor", "middle")
    .attr("dy", "0.36em")
    .attr("font-size", fontSize)
    .text(txt);
});
arrowTime.forEach((t, i) => {
  const ax = x(t), y0 = y(arrowFrom[i]), y1 = y(arrowTo[i]);
  const dir = y1 > y0 ? 1 : -1;
  notes.append("line")
    .attr("x1", ax).attr("x2", ax).attr("y1", y0).attr("y2", y1 - dir * 6)
    .attr("stroke", "#1e1e1e").attr("stroke-width", 1.2);
  notes.append("path")
    .attr("d", `M${ax},${y1} L${ax - 5},${y1 - dir * 12} L${ax + 5},${y1 - dir * 12} Z`)
    .attr("fill", "#1e1e1e");
});

// map the flat drawing onto the slightly tilted page
function quadTransform(q) {
  const [x0, y0] = q[0], [x1, y1] = q[1], [x2, y2] = q[2], [x3, y3] = q[3];
  const dx1 = x1 - x2, dx2 = x3 - x2, dx3 = x0 - x1 + x2 - x3;
  const dy1 = y1 - y2, dy2 = y3 - y2, dy3 = y0 - y1 + y2 - y3;
  const den = dx1 * dy2 - dx2 * dy1;
  const g = (dx3 * dy2 - dx2 * dy3) / den;
  const h = (dx1 * dy3 - dx3 * dy1) / den;
  const a = x1 - x0 + g * x1, b = x3 - x0 + h * x3, c = x0;
  const d = y1 - y0 + g * y1, e = y3 - y0 + h * y3, f = y0;
  const m11 = a / W, m12 = b / H, m13 = c - a * L / W - b * T / H;
  const m21 = d / W, m22 = e / H, m23 = f - d * L / W - e * T / H;
  const m31 = g / W, m32 = h / H, m33 = 1 - g * L / W - h * T / H;
  return `matrix3d(${m11},${m21},0,${m31},${m12},${m22},0,${m32},0,0,1,0,${m13},${m23},0,${m33})`;
}
document.getElementById("chart").style.transform =
  quadTransform([[95, 26], [1086, 53], [1075, 834], [90, 817]]);
</script>
</body>
</html>
